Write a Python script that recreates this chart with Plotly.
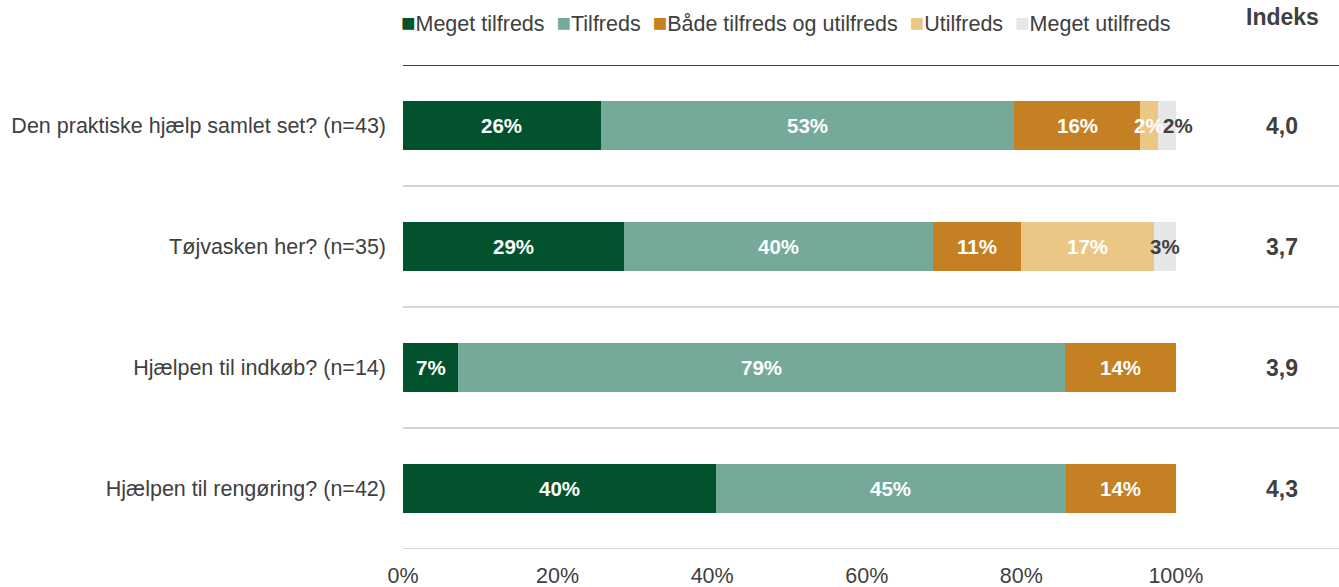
import plotly.graph_objects as go

categories = [
    "Den praktiske hjælp samlet set? (n=43)",
    "Tøjvasken her? (n=35)",
    "Hjælpen til indkøb? (n=14)",
    "Hjælpen til rengøring? (n=42)",
]
series_names = ["Meget tilfreds", "Tilfreds", "Både tilfreds og utilfreds", "Utilfreds", "Meget utilfreds"]
meget_tilfreds = [25.58, 28.57, 7.14, 40.48]
tilfreds = [53.49, 40.00, 78.57, 45.24]
baade = [16.28, 11.43, 14.29, 14.29]
utilfreds = [2.33, 17.14, 0.0, 0.0]
meget_utilfreds = [2.33, 2.86, 0.0, 0.0]
indeks = ["4,0", "3,7", "3,9", "4,3"]
tick_vals = [0, 20, 40, 60, 80, 100]
tick_text = ["0%", "20%", "40%", "60%", "80%", "100%"]

colors = ["#02522E", "#75A99A", "#C48022", "#EBC785", "#E6E6E6"]
label_colors = ["white", "white", "white", "white", "#404040"]
series = [meget_tilfreds, tilfreds, baade, utilfreds, meget_utilfreds]

W, H = 1339, 587
ML, MR, MT, MB = 403, 0, 65, 38


def px_to_paper(xp, yp):
    return (xp - ML) / (W - ML - MR), (H - MB - yp) / (H - MT - MB)


font_family = "Liberation Sans, Arial, sans-serif"
text_color = "#404040"
fig = go.Figure()
for name, vals, col in zip(series_names, series, colors):
    fig.add_trace(go.Bar(
        y=categories, x=vals, name=name, orientation="h",
        marker=dict(color=col, line=dict(width=0)), width=0.4,
        hoverinfo="skip", showlegend=False,
    ))

annotations = []
for i, cat in enumerate(categories):
    cum = 0.0
    for s, vals in enumerate(series):
        v = vals[i]
        if v > 0:
            annotations.append(dict(
                x=cum + v / 2, y=cat, xref="x", yref="y",
                text=f"<b>{round(v)}%</b>", showarrow=False,
                font=dict(family=font_family, size=20.5, color=label_colors[s]),
                xshift=(11 if (s == 4 and i == 0) else 0),
            ))
        cum += v
    annotations.append(dict(
        x=113.7, y=cat, xref="x", yref="y", text=f"<b>{indeks[i]}</b>",
        showarrow=False, font=dict(family=font_family, size=23, color=text_color),
    ))

hx, hy = px_to_paper(1282, 17)
annotations.append(dict(
    x=hx, y=hy, xref="paper", yref="paper",
    text="<b>Indeks</b>", showarrow=False,
    font=dict(family=font_family, size=23, color=text_color),
    xanchor="center", yanchor="middle",
))

# legend drawn as a single text line with coloured squares
legend_parts = [f"<span style='color:{c};font-size:24px'>■</span>{n}" for n, c in zip(series_names, colors)]
lx, ly = px_to_paper(785.5, 22)
annotations.append(dict(
    x=lx, y=ly, xref="paper", yref="paper",
    text="\u00a0\u00a0".join(legend_parts), showarrow=False,
    font=dict(family=font_family, size=21.5, color=text_color),
    xanchor="center", yanchor="middle",
))

shapes = [dict(type="line", xref="paper", yref="y", x0=0, x1=1, y0=-0.5, y1=-0.5,
               line=dict(color="black", width=1.3))]
for yb in [0.5, 1.5, 2.5, 3.5]:
    shapes.append(dict(type="line", xref="paper", yref="y", x0=0, x1=1, y0=yb, y1=yb,
                       line=dict(color="#C8C8C8", width=1.3)))

fig.update_layout(
    barmode="stack",
    width=W, height=H,
    margin=dict(l=ML, r=MR, t=MT, b=MB, pad=0),
    paper_bgcolor="white", plot_bgcolor="white",
    font=dict(family=font_family, size=21.5, color=text_color),
    showlegend=False,
    xaxis=dict(range=[0, 121.1], tickvals=tick_vals, ticktext=tick_text,
               showgrid=False, zeroline=False, showline=False,
               ticks="", ticklabelstandoff=11,
               tickfont=dict(size=21.5, color=text_color)),
    yaxis=dict(range=[3.5, -0.5], showgrid=False, zeroline=False, showline=False,
               ticks="", ticklabelstandoff=16,
               tickfont=dict(size=21.5, color=text_color)),
    annotations=annotations, shapes=shapes,
)
fig.write_html(
    "out.html",
    config={"displayModeBar": False},
    post_script="document.body.style.margin='0';document.body.style.overflow='hidden';",
)
